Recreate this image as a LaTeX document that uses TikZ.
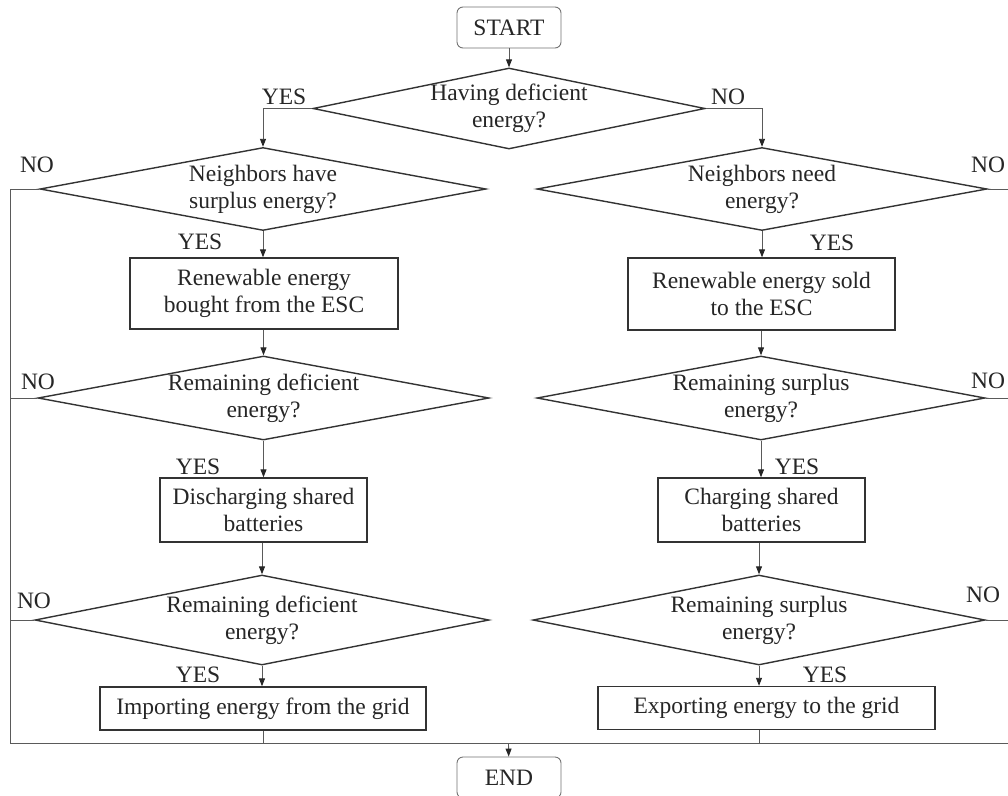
\documentclass[tikz,border=0pt]{standalone}
\usepackage{fontspec}
\setmainfont{Liberation Serif}
\usetikzlibrary{shapes.geometric,arrows.meta}
\definecolor{ink}{HTML}{262626}
\definecolor{edge}{HTML}{333333}
\definecolor{wire}{HTML}{5A5A5A}
\tikzset{
  txt/.style={font=\fontsize{23.5}{27}\selectfont, text=ink, align=center},
  terminal/.style={txt, draw=black!55, line width=0.9pt, rounded corners=6pt,
    minimum width=104pt, minimum height=41pt, inner sep=0pt},
  decision/.style={txt, draw=edge, line width=1.4pt, shape=diamond, aspect=5.2,
    inner xsep=-20pt, inner ysep=-4pt},
  process/.style={txt, draw=edge, line width=1.4pt, inner sep=0pt},
  conn/.style={draw=wire, line width=0.9pt},
  arr/.style={conn, -{Triangle[length=8pt,width=6pt,color=ink]}},
  tag/.style={txt, inner sep=0pt}
}
\begin{document}
\begin{tikzpicture}[x=1pt,y=-1pt]
\clip (0,0) rectangle (1008,795);
\fill[white] (0,0) rectangle (1008,795);

% terminals
\node[terminal] (start) at (509,27.5) {START};
\node[terminal] (stop) at (509,777.5) {END};

% top decision
\node[decision, minimum width=392pt, minimum height=81pt] (d0) at (509,108.5) {Having deficient\\energy?};

% left branch: deficient energy
\node[decision, minimum width=446pt, minimum height=83pt] (l1) at (263,189) {Neighbors have\\surplus energy?};
\node[process, minimum width=268pt, minimum height=71pt] (lb1) at (264,293.5) {Renewable energy\\bought from the ESC};
\node[decision, minimum width=451pt, minimum height=84pt] (l2) at (263.5,398) {Remaining deficient\\energy?};
\node[process, minimum width=207pt, minimum height=64pt] (lb2) at (263.5,510) {Discharging shared\\batteries};
\node[decision, minimum width=454pt, minimum height=90pt] (l3) at (262,620) {Remaining deficient\\energy?};
\node[process, minimum width=326pt, minimum height=43pt] (lb3) at (263,708.5) {Importing energy from the grid};

% right branch: surplus energy
\node[decision, minimum width=450pt, minimum height=83pt] (r1) at (762,189) {Neighbors need\\energy?};
\node[process, minimum width=267pt, minimum height=72pt] (rb1) at (761.5,294) {Renewable energy sold\\to the ESC};
\node[decision, minimum width=448pt, minimum height=84pt] (r2) at (761,398) {Remaining surplus\\energy?};
\node[process, minimum width=207pt, minimum height=64pt] (rb2) at (761.5,510) {Charging shared\\batteries};
\node[decision, minimum width=452pt, minimum height=90pt] (r3) at (759,620) {Remaining surplus\\energy?};
\node[process, minimum width=337pt, minimum height=43pt] (rb3) at (766.5,708) {Exporting energy to the grid};

% rails that collect the NO exits
\coordinate (lrail) at (10.5,743.5);
\coordinate (rrail) at (1013,743.5);
\coordinate (merge) at (508.5,743.5);

% main flow
\draw[arr] (start) -- (d0);
\draw[arr] (d0.west) -| (l1.north);
\draw[arr] (d0.east) -| (r1.north);

\draw[arr] (l1.south) -- (lb1.north -| l1.south);
\draw[arr] (lb1.south -| l2.north) -- (l2.north);
\draw[arr] (l2.south) -- (lb2.north -| l2.south);
\draw[arr] (lb2.south -| l3.north) -- (l3.north);
\draw[arr] (l3.south) -- (lb3.north -| l3.south);
\draw[conn] (lb3.south) -- (lb3.south |- merge);

\draw[arr] (r1.south) -- (rb1.north -| r1.south);
\draw[arr] (rb1.south -| r2.north) -- (r2.north);
\draw[arr] (r2.south) -- (rb2.north -| r2.south);
\draw[arr] (rb2.south -| r3.north) -- (r3.north);
\draw[arr] (r3.south) -- (rb3.north -| r3.south);
\draw[conn] (rb3.south -| r3.south) -- (r3.south |- merge);

% NO exits to the side rails
\draw[conn] (l1.west) -| (lrail);
\draw[conn] (l2.west) -- (l2.west -| lrail);
\draw[conn] (l3.west) -- (l3.west -| lrail);
\draw[conn] (r1.east) -| (rrail);
\draw[conn] (r2.east) -- (r2.east -| rrail);
\draw[conn] (r3.east) -- (r3.east -| rrail);
\draw[conn] (lrail) -- (rrail);
\draw[arr] (merge) -- (stop);

% branch labels
\node[tag] (t0y) at (284,97) {YES};
\node[tag] (t0n) at (728,97) {NO};
\node[tag] (t1n) at (37,165) {NO};
\node[tag] (t1y) at (200,242) {YES};
\node[tag] (t2n) at (38,382) {NO};
\node[tag] (t2y) at (198,467) {YES};
\node[tag] (t3n) at (34,601) {NO};
\node[tag] (t3y) at (198,675) {YES};
\node[tag] (u1n) at (988,165) {NO};
\node[tag] (u1y) at (832,243) {YES};
\node[tag] (u2n) at (988,381) {NO};
\node[tag] (u2y) at (797,467) {YES};
\node[tag] (u3n) at (983,595) {NO};
\node[tag] (u3y) at (825,675) {YES};
\end{tikzpicture}
\end{document}
